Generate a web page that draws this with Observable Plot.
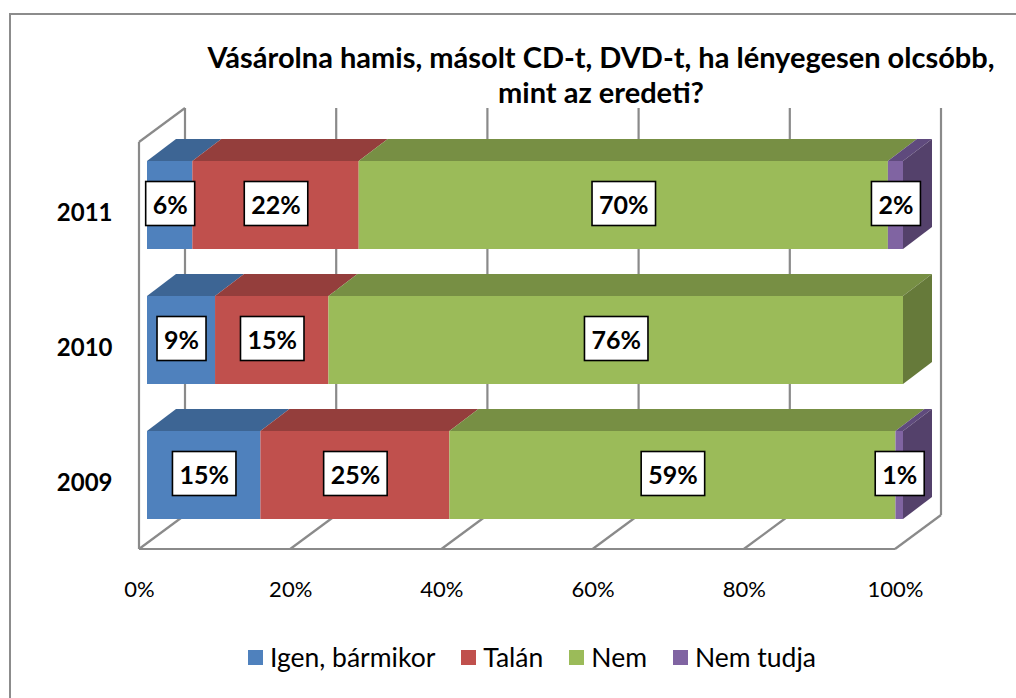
<!DOCTYPE html>
<html><head><meta charset="utf-8">
<script src="https://cdn.jsdelivr.net/npm/d3@7"></script>
<script src="https://cdn.jsdelivr.net/npm/@observablehq/plot@0.6"></script>
<style>
html,body{margin:0;padding:0;background:#fff;width:1016px;height:698px;overflow:hidden;font-family:Lato,"Open Sans",sans-serif;}
#border{position:absolute;left:9px;top:13px;width:1200px;height:900px;border-left:2px solid #8c8c8c;border-top:2px solid #8c8c8c;box-sizing:border-box;}
#title{position:absolute;left:150px;width:902px;top:39px;text-align:center;font-weight:bold;font-size:29px;line-height:35px;color:#000;}
#chart{position:absolute;left:0;top:0;}
#legend{position:absolute;left:0;width:1064px;top:642px;display:flex;justify-content:center;gap:26px;font-size:26.5px;line-height:30px;color:#000;}
#legend .item{display:flex;align-items:center;}
#legend .sw{width:15px;height:15px;margin-right:7px;display:inline-block;}
</style></head>
<body>
<div id="border"></div>
<div id="title">Vásárolna hamis, másolt CD-t, DVD-t, ha lényegesen olcsóbb,<br>mint az eredeti?</div>
<div id="chart"></div>
<div id="legend"></div>
<script>
// ---- data ----
const years = ["2011", "2010", "2009"];
const categories = ["Igen, bármikor", "Talán", "Nem", "Nem tudja"];
const igen = [6, 9, 15];
const talan = [22, 15, 25];
const nem = [70, 76, 59];
const nemTudja = [2, 0, 1];
const xTicks = [0, 20, 40, 60, 80, 100];

// ---- styles ----
const colors = ["#4F81BD", "#C0504D", "#9BBB59", "#8064A2"];
const topColors = ["#3D6594", "#943E3C", "#778F44", "#5F4A7D"];
const sideColors = ["#355780", "#7F3533", "#667A3A", "#54416B"];
const gridColor = "#8a8a8a";
const WALL = {dx: 46, dy: -34};
const BAR_DEPTH = {dx: 29, dy: -22};
const FRONT_DX = -8;   // floor front plane vs bar front plane
const FLOOR_GAP = 30;  // floor below last bar
const TOP_GAP = 53;    // back wall top above first bar

const seriesValues = [igen, talan, nem, nemTudja];
const rows = [];
years.forEach((yr, i) => {
  let acc = 0;
  categories.forEach((cat, j) => {
    const v = seriesValues[j][i];
    rows.push({year: yr, cat, idx: j, value: v, x1: acc, x2: acc + v});
    acc += v;
  });
});
const shown = rows.filter(d => d.value > 0);

function frame3d(index, scales) {
  const x = scales.x, y = scales.y;
  const bw = y.bandwidth();
  const yTopBar = y(years[0]);
  const yBotBar = y(years[years.length - 1]) + bw;
  const floorY = yBotBar + FLOOR_GAP;
  const backFloorY = floorY + WALL.dy;
  const backTopY = yTopBar - TOP_GAP;
  const fx = v => x(v) + FRONT_DX;
  const bx = v => fx(v) + WALL.dx;
  const g = d3.create("svg:g").attr("fill", "none").attr("stroke", gridColor).attr("stroke-width", 2.2);
  const segs = [];
  xTicks.forEach(v => {
    segs.push([bx(v), backTopY, bx(v), backFloorY]);
    segs.push([bx(v), backFloorY, fx(v), floorY]);
  });
  segs.push([fx(0), floorY, fx(100), floorY]);
  segs.push([fx(0), floorY, fx(0), backTopY - WALL.dy]);
  segs.push([fx(0), backTopY - WALL.dy, bx(0), backTopY]);
  g.selectAll("line").data(segs).join("line")
    .attr("x1", d => d[0]).attr("y1", d => d[1]).attr("x2", d => d[2]).attr("y2", d => d[3]);
  return g.node();
}

function faces3d(index, scales) {
  const x = scales.x, y = scales.y;
  const bw = y.bandwidth();
  const g = d3.create("svg:g");
  const {dx, dy} = BAR_DEPTH;
  shown.forEach(d => {
    const a = x(d.x1), b = x(d.x2), t = y(d.year);
    g.append("path")
      .attr("d", `M${a},${t}L${b},${t}L${b + dx},${t + dy}L${a + dx},${t + dy}Z`)
      .attr("fill", topColors[d.idx]);
  });
  years.forEach(yr => {
    const last = shown.filter(d => d.year === yr).slice(-1)[0];
    const b = x(last.x2), t = y(yr), bt = t + bw;
    g.append("path")
      .attr("d", `M${b},${t}L${b + dx},${t + dy}L${b + dx},${bt + dy}L${b},${bt}Z`)
      .attr("fill", sideColors[last.idx]);
  });
  return g.node();
}

const hasAxisMarks = typeof Plot.axisX === "function";

const chart = Plot.plot({
  width: 1016,
  height: 620,
  marginLeft: 147,
  marginRight: 113,
  marginTop: 114,
  marginBottom: 54,
  x: {domain: [0, 100], ticks: xTicks, tickFormat: d => d + "%", label: null, axis: hasAxisMarks ? null : "bottom", tickSize: 0, tickPadding: 16},
  y: {domain: years, padding: 0.348, label: null, axis: hasAxisMarks ? null : "left", tickSize: 0, tickPadding: 35},
  color: {domain: categories, range: colors},
  style: {fontFamily: "Lato, 'Open Sans', sans-serif", background: "transparent", overflow: "visible"},
  marks: [
    frame3d,
    Plot.barX(shown, {x1: "x1", x2: "x2", y: "year", fill: "cat"}),
    faces3d,
    ...(hasAxisMarks ? [
      Plot.axisX({ticks: xTicks, tickFormat: d => d + "%", tickSize: 0, tickPadding: 15, dx: FRONT_DX, fontSize: 22, fill: "#000", label: null}),
      Plot.axisY({tickSize: 0, tickPadding: 35, dy: 8, fontSize: 24, fontWeight: "bold", fill: "#000", label: null})
    ] : []),
    Plot.text(shown, {x: d => (d.x1 + d.x2) / 2, y: "year", text: d => d.value + "%", fontSize: 25, fontWeight: "bold", fill: "#000", className: "seglabel"})
  ]
});
document.getElementById("chart").append(chart);

// white boxes behind the data labels
d3.select(chart).selectAll(".seglabel text").each(function () {
  const bb = this.getBBox();
  const cy = bb.y + bb.height / 2;
  d3.select(this.parentNode).insert("rect", () => this)
    .attr("transform", this.getAttribute("transform"))
    .attr("x", bb.x - 7).attr("y", cy - 22)
    .attr("width", bb.width + 14).attr("height", 44)
    .attr("fill", "#fff").attr("stroke", "#000").attr("stroke-width", 1.6);
});

// legend
const legend = d3.select("#legend");
categories.forEach((c, i) => {
  const it = legend.append("div").attr("class", "item");
  it.append("span").attr("class", "sw").style("background", colors[i]);
  it.append("span").text(c);
});
</script>
</body></html>
